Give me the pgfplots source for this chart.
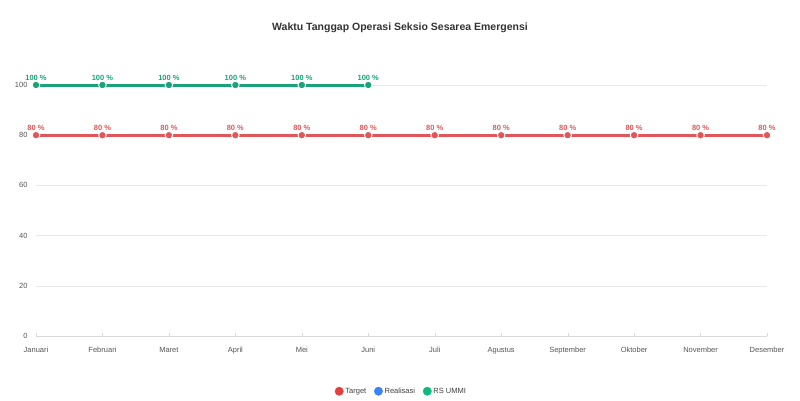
\documentclass[border=0pt]{standalone}
\usepackage{pgfplots}
\pgfplotsset{compat=1.18}
\usepackage{fontspec}
\setmainfont{Liberation Sans}
\definecolor{cred}{HTML}{E15759}
\definecolor{cgreen}{HTML}{1AA37A}
\definecolor{lred}{HTML}{E53E3E}
\definecolor{lblue}{HTML}{3B82F6}
\definecolor{lgreen}{HTML}{10B981}
\definecolor{tickc}{HTML}{555555}
\definecolor{gridc}{HTML}{E8E8E8}
\begin{document}
\begin{tikzpicture}
\useasboundingbox (0,0) rectangle (800pt,400pt);
\node[font=\bfseries\fontsize{10.5}{12}\selectfont, text=black!80] at (400pt,372pt) {Waktu Tanggap Operasi Seksio Sesarea Emergensi};
\begin{axis}[
  at={(36pt,64pt)}, anchor=origin,
  scale only axis, width=731pt, height=251pt,
  xmin=0, xmax=11, ymin=0, ymax=100,
  clip=false,
  /pgf/number format/assume math mode=true,
  axis y line*=left, axis x line*=bottom,
  y axis line style={draw=none},
  x axis line style={draw=black!15, line width=0.6pt},
  xtick={0,...,11},
  xticklabels={Januari,Februari,Maret,April,Mei,Juni,Juli,Agustus,September,Oktober,November,Desember},
  ytick={0,20,40,60,80,100},
  ymajorgrids, grid style={gridc, line width=0.5pt},
  major tick length=3pt,
  xtick style={draw=black!15},
  ytick style={draw=none},
  tick label style={font=\fontsize{7.5}{9}\selectfont, text=tickc},
  xticklabel style={yshift=-8pt},
  yticklabel style={xshift=-5pt},
  legend style={at={(0.5,-0.22)}, anchor=center, draw=none, fill=none,
    legend columns=3, font=\fontsize{7.5}{9}\selectfont, text=black!75,
    /tikz/every even column/.append style={column sep=6pt}},
  legend cell align=left,
  nodes near coords={\pgfmathprintnumber{\pgfplotspointmeta}~\%},
  every node near coord/.append style={font=\bfseries\fontsize{7.5}{9}\selectfont, yshift=1pt},
]
\addplot[cred, line width=3pt, mark=*, mark size=3.8pt,
  mark options={fill=cred, draw=white, line width=0.9pt},
  every node near coord/.append style={text=cred},
  forget plot]
  coordinates {(0,80)(1,80)(2,80)(3,80)(4,80)(5,80)(6,80)(7,80)(8,80)(9,80)(10,80)(11,80)};
\addplot[cgreen, line width=3pt, mark=*, mark size=3.8pt,
  mark options={fill=cgreen, draw=white, line width=0.9pt},
  every node near coord/.append style={text=cgreen},
  forget plot]
  coordinates {(0,100)(1,100)(2,100)(3,100)(4,100)(5,100)};
\addlegendimage{only marks, mark=*, mark size=4.2pt, mark options={fill=lred, draw=lred}}
\addlegendentry{Target}
\addlegendimage{only marks, mark=*, mark size=4.2pt, mark options={fill=lblue, draw=lblue}}
\addlegendentry{Realisasi}
\addlegendimage{only marks, mark=*, mark size=4.2pt, mark options={fill=lgreen, draw=lgreen}}
\addlegendentry{RS UMMI}
\end{axis}
\end{tikzpicture}
\end{document}
